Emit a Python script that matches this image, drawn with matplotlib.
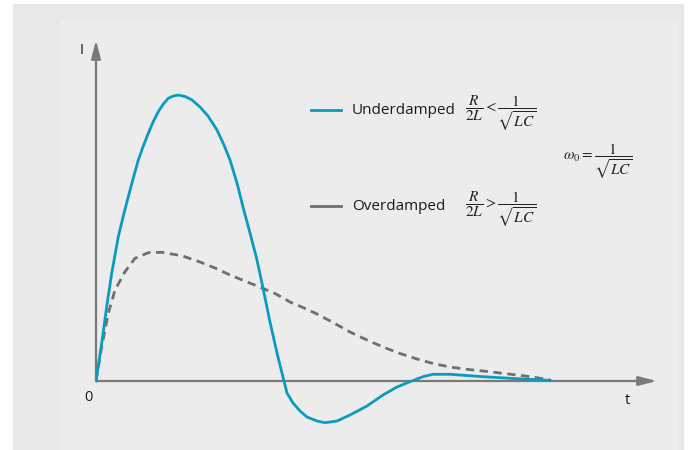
import matplotlib.pyplot as plt
from matplotlib.patches import Rectangle

plt.rcParams['font.family'] = ['Open Sans', 'DejaVu Sans']
plt.rcParams['mathtext.fontset'] = 'stix'

# current response samples (time, current)
t_under = [0, 0.3, 0.57, 1.07, 1.57, 2.23, 2.73, 3.23, 3.73, 4.23, 4.73, 5.23,
           5.73, 6.23, 6.73, 7.23, 7.73, 8.23, 8.9, 9.6, 10.4, 11.2, 12.1,
           12.8, 13.4, 14.1, 14.7, 15.4, 16.1, 16.7, 17.4, 18.1, 18.7, 19.1,
           19.7, 20.4, 21.1, 22.1, 22.9, 24.1, 25.4, 27.1, 28.7, 30.1, 31.4,
           32.7, 33.7, 35.4, 38.7, 42.1, 45.4]
i_under = [0, 2.0, 3.77, 7.43, 10.77, 14.43, 16.5, 18.43, 20.3, 22.1, 23.5,
           24.77, 25.95, 26.93, 27.7, 28.27, 28.5, 28.6, 28.45, 28.1, 27.4,
           26.5, 25.1, 23.6, 22.1, 19.8, 17.4, 14.8, 12.1, 9.3, 5.9, 2.8, 0.4,
           -1.2, -2.2, -3.0, -3.6, -4.0, -4.17, -4.0, -3.4, -2.5, -1.4, -0.6,
           -0.07, 0.43, 0.67, 0.67, 0.43, 0.23, 0.07]

t_over = [0, 0.57, 1.23, 1.9, 2.9, 3.9, 5.23, 6.57, 8.57, 10.4, 11.9, 13.4,
          15.0, 16.6, 18.0, 19.4, 20.7, 22.1, 23.7, 25.4, 27.1, 28.7, 30.4,
          32.1, 33.7, 35.4, 37.1, 38.7, 40.4, 42.1, 43.7, 45.4]
i_over = [0, 3.43, 6.77, 9.1, 10.93, 12.27, 12.83, 12.87, 12.53, 11.9, 11.3,
          10.6, 9.95, 9.3, 8.7, 7.9, 7.35, 6.7, 5.85, 4.9, 4.1, 3.4, 2.75, 2.2,
          1.75, 1.4, 1.17, 1.0, 0.8, 0.6, 0.4, 0.1]

fig = plt.figure(figsize=(6.89, 4.5), dpi=100)
fig.patch.set_facecolor('white')
fig.patches.append(Rectangle((13 / 689, 0), 670 / 689, 446 / 450,
                             transform=fig.transFigure, color='#e9e7e8', zorder=-10))
fig.patches.append(Rectangle((60 / 689, 0), 618 / 689, 430 / 450,
                             transform=fig.transFigure, color='#ececec', zorder=-9))

# axes spans from the origin to the arrow tips
ax = fig.add_axes([96 / 689, 20 / 450, 561 / 689, 390 / 450])
ax.set_xlim(0, 56.1)
ax.set_ylim(-4.9, 34.1)
ax.axis('off')

axis_col = '#7a7a7a'
arrow = dict(arrowstyle='-|>,head_length=1.1,head_width=0.28',
             color=axis_col, lw=1.6, shrinkA=0, shrinkB=0)
ax.annotate('', xy=(56.1, 0), xytext=(0, 0), arrowprops=arrow)
ax.annotate('', xy=(0, 34.1), xytext=(0, 0), arrowprops=arrow)

blue = '#0b9ac1'
grey = '#6f6f6f'
ax.plot(t_over, i_over, color=grey, lw=2, ls=(0, (3, 2)), zorder=3)
ax.plot(t_under, i_under, color=blue, lw=2, zorder=4,
        solid_joinstyle='round')

ax.text(-0.3, -0.9, '0', ha='right', va='top', fontsize=10.5, color='#1a1a1a')
ax.text(53.1, -1.2, 't', ha='center', va='top', fontsize=10.5, color='#1a1a1a')
ax.text(-1.4, 33.1, 'I', ha='center', va='center', fontsize=10.5, color='#1a1a1a')

# legend entries with damping conditions
ax.plot([21.5, 24.5], [27.1, 27.1], color=blue, lw=2)
ax.text(25.6, 27.1, 'Underdamped', va='center', fontsize=11, color='#1a1a1a')
ax.text(36.9, 26.8, r'$\dfrac{R}{2L} < \dfrac{1}{\sqrt{LC}}$', va='center',
        fontsize=11, color='#222222')

ax.plot([21.5, 24.5], [17.5, 17.5], color=grey, lw=2)
ax.text(25.6, 17.5, 'Overdamped', va='center', fontsize=11, color='#1a1a1a')
ax.text(36.9, 17.2, r'$\dfrac{R}{2L} > \dfrac{1}{\sqrt{LC}}$', va='center',
        fontsize=11, color='#222222')

ax.text(46.7, 22.0, r'$\omega_0 = \dfrac{1}{\sqrt{LC}}$', va='center',
        fontsize=11, color='#222222')

fig.savefig('out.png', dpi=100)
